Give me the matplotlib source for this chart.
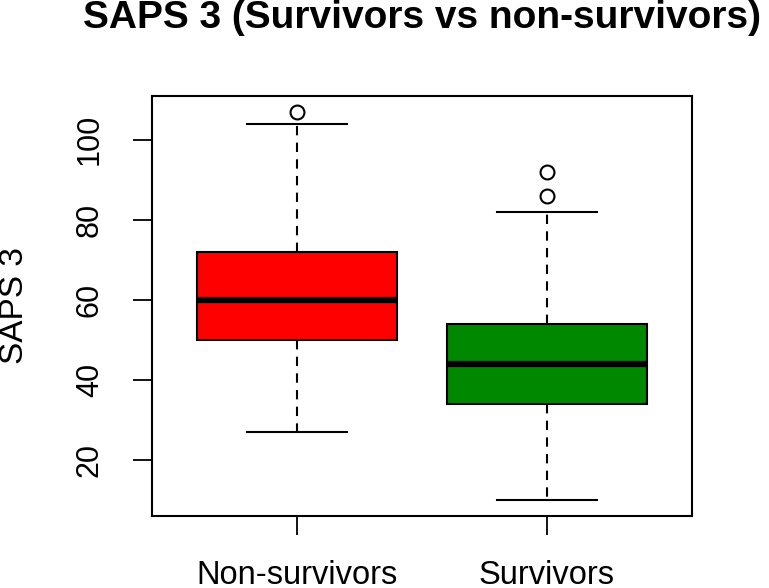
import matplotlib
matplotlib.use("Agg")
import matplotlib.pyplot as plt

# values
groups = ['Non-survivors', 'Survivors']
q1 = [50, 34]
median = [60, 44]
q3 = [72, 54]
whisk_lo = [27, 10]
whisk_hi = [104, 82]
outliers = [[107], [86, 92]]
colors = ['#ff0000', '#008800']
yticks = [20, 40, 60, 80, 100]

plt.rcParams['font.family'] = ['Liberation Sans', 'DejaVu Sans']

fig = plt.figure(figsize=(7.69, 5.88), dpi=100)
ax = fig.add_axes([152 / 769, 1 - 516 / 588, 540 / 769, 420 / 588])

stats = []
for i in range(len(groups)):
    stats.append({'label': groups[i], 'q1': q1[i], 'med': median[i], 'q3': q3[i],
                  'whislo': whisk_lo[i], 'whishi': whisk_hi[i], 'fliers': outliers[i]})

bp = ax.bxp(stats, positions=[1, 2], widths=0.8, patch_artist=True,
            boxprops=dict(edgecolor='black', linewidth=1.5),
            medianprops=dict(color='black', linewidth=4.5, solid_capstyle='butt'),
            whiskerprops=dict(color='black', linewidth=1.5, linestyle=(0, (4.5, 3.5))),
            capprops=dict(color='black', linewidth=1.5),
            capwidths=0.4,
            flierprops=dict(marker='o', markerfacecolor='white', markeredgecolor='black',
                            markersize=10, markeredgewidth=1.5))
for patch, c in zip(bp['boxes'], colors):
    patch.set_facecolor(c)

ax.set_xlim(0.42, 2.58)
ax.set_ylim(6.12, 110.88)
ax.set_yticks(yticks)
ax.set_yticklabels([str(v) for v in yticks], rotation=90, va='center')
ax.set_xticks([1, 2])
ax.set_xticklabels(groups)
ax.tick_params(axis='both', length=14, width=1.3)
ax.tick_params(axis='y', labelsize=22, pad=20)
ax.tick_params(axis='x', labelsize=23.5, pad=18)
for s in ax.spines.values():
    s.set_linewidth(1.5)

ax.set_ylabel('SAPS 3', fontsize=24, labelpad=32)
ax.set_title('SAPS 3 (Survivors vs non-survivors)', fontsize=28, fontweight='bold', pad=49)

fig.savefig('out.png', dpi=100)
